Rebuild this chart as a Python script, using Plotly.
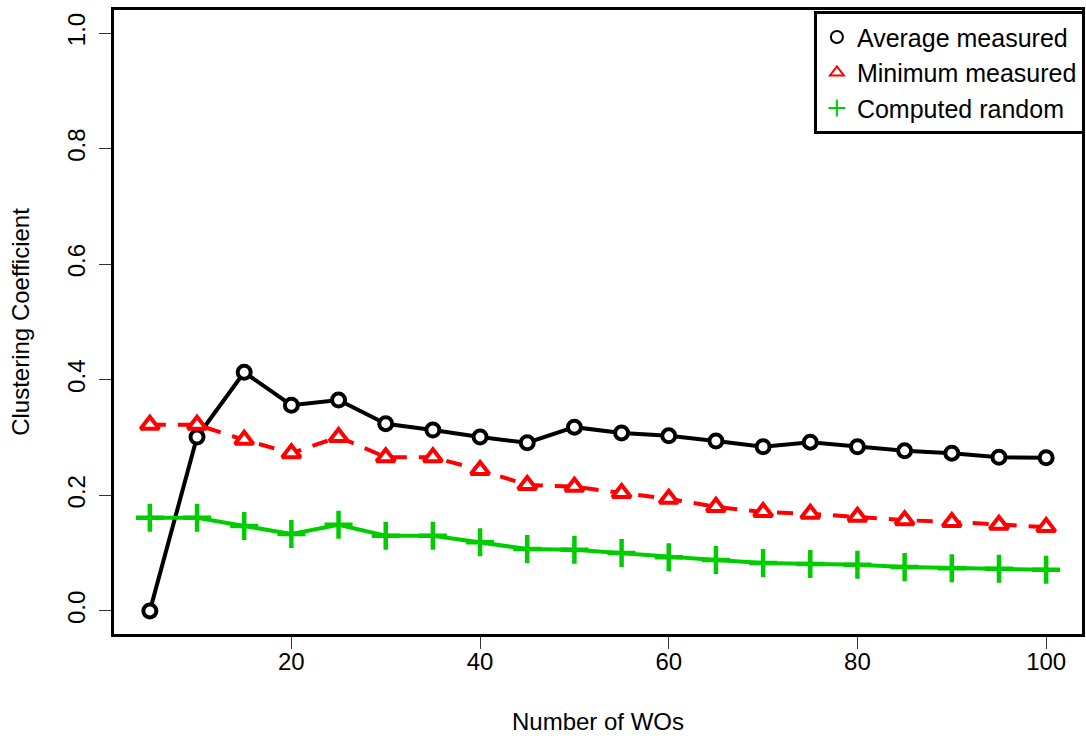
import plotly.graph_objects as go

wos = [5, 10, 15, 20, 25, 30, 35, 40, 45, 50, 55, 60, 65, 70, 75, 80, 85, 90, 95, 100]
avg_measured = [0.000, 0.301, 0.413, 0.356, 0.365, 0.324, 0.313, 0.301, 0.291, 0.318,
                0.308, 0.303, 0.294, 0.284, 0.292, 0.284, 0.277, 0.273, 0.266, 0.265]
min_measured = [0.322, 0.322, 0.296, 0.273, 0.301, 0.266, 0.266, 0.244, 0.218, 0.215,
                0.204, 0.194, 0.180, 0.171, 0.168, 0.163, 0.157, 0.154, 0.149, 0.145]
computed_random = [0.161, 0.161, 0.147, 0.133, 0.149, 0.130, 0.130, 0.119, 0.107, 0.106,
                   0.100, 0.093, 0.088, 0.083, 0.081, 0.080, 0.076, 0.074, 0.073, 0.071]

series_names = ["Average measured", "Minimum measured", "Computed random"]
x_ticks = [20, 40, 60, 80, 100]
y_ticks = [0.0, 0.2, 0.4, 0.6, 0.8, 1.0]
y_tick_text = ["0.0", "0.2", "0.4", "0.6", "0.8", "1.0"]

BLACK = "#000000"
RED = "#FF0000"
GREEN = "#00CD00"
FONT = "Liberation Sans, Arial, sans-serif"
FS = 24

fig = go.Figure()

fig.add_trace(go.Scatter(
    x=wos, y=avg_measured, mode="lines+markers", showlegend=False,
    line=dict(color=BLACK, width=4),
    marker=dict(symbol="circle", size=13, color="white", line=dict(color=BLACK, width=4)),
))
fig.add_trace(go.Scatter(
    x=wos, y=min_measured, mode="lines+markers", showlegend=False,
    line=dict(color=RED, width=4, dash="16px,12px"),
    marker=dict(symbol="triangle-up", size=16, color="white", line=dict(color=RED, width=4)),
))
fig.add_trace(go.Scatter(
    x=wos, y=computed_random, mode="lines+markers", showlegend=False,
    line=dict(color=GREEN, width=4),
    marker=dict(symbol="cross-thin-open", size=20, color=GREEN, line=dict(color=GREEN, width=4.5)),
))

# legend-only entries (markers only, as in the reference legend)
fig.add_trace(go.Scatter(
    x=[None], y=[None], mode="markers", name=series_names[0],
    marker=dict(symbol="circle-open", size=12, color=BLACK, line=dict(color=BLACK, width=4)),
))
fig.add_trace(go.Scatter(
    x=[None], y=[None], mode="markers", name=series_names[1],
    marker=dict(symbol="triangle-up-open", size=14, color=RED, line=dict(color=RED, width=4)),
))
fig.add_trace(go.Scatter(
    x=[None], y=[None], mode="markers", name=series_names[2],
    marker=dict(symbol="cross-thin-open", size=18, color=GREEN, line=dict(color=GREEN, width=4.5)),
))

fig.update_layout(
    width=1086, height=738,
    margin=dict(l=114, r=1, t=10, b=104),
    paper_bgcolor="white", plot_bgcolor="white",
    font=dict(family=FONT, size=FS, color=BLACK),
    legend=dict(
        x=1.003, y=0.998, xanchor="right", yanchor="top",
        bordercolor=BLACK, borderwidth=3, bgcolor="white",
        font=dict(family=FONT, size=25, color=BLACK),
        itemsizing="constant", tracegroupgap=0,
    ),
)

fig.update_xaxes(
    range=[1.2, 103.8], tickvals=x_ticks, ticktext=[str(v) for v in x_ticks],
    showgrid=False, zeroline=False,
    showline=True, mirror=True, linecolor=BLACK, linewidth=3,
    ticks="outside", ticklen=12, tickwidth=1, tickcolor="#333333",
    ticklabelstandoff=-8,
    tickfont=dict(size=FS, family=FONT, color=BLACK),
    title=dict(text="Number of WOs", font=dict(size=FS, family=FONT, color=BLACK), standoff=40),
)
fig.update_yaxes(
    range=[-0.04, 1.04], tickvals=y_ticks, ticktext=y_tick_text, tickangle=-90,
    showgrid=False, zeroline=False,
    showline=True, mirror=True, linecolor=BLACK, linewidth=3,
    ticks="outside", ticklen=12, tickwidth=1, tickcolor="#333333",
    ticklabelstandoff=4,
    tickfont=dict(size=FS, family=FONT, color=BLACK),
    title=dict(text="Clustering Coefficient", font=dict(size=FS, family=FONT, color=BLACK), standoff=28),
)

fig.write_html(
    "out.html",
    config={"displayModeBar": False},
    post_script="document.body.style.margin='0';document.body.style.overflow='hidden';",
)
